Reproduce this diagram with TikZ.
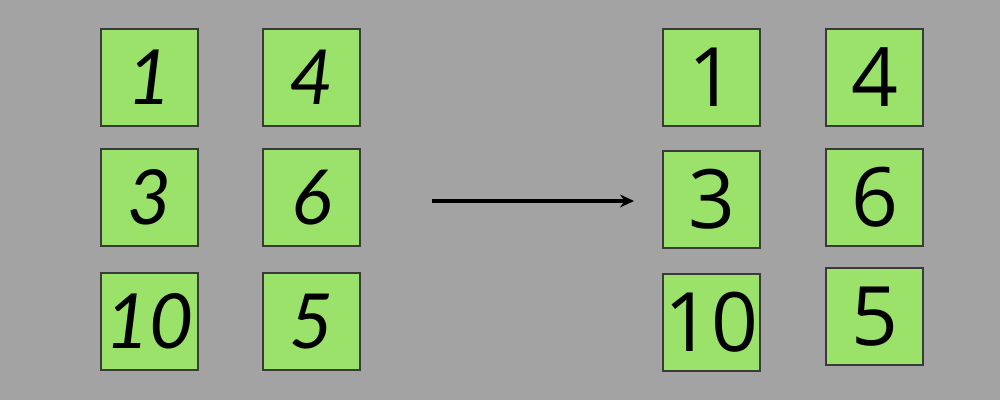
\documentclass[tikz,border=0pt]{standalone}
\usetikzlibrary{arrows.meta}
\usepackage{fontspec}
\setmainfont{Open Sans}
\newfontfamily\handfont{Lato}
\definecolor{bg}{HTML}{A3A3A3}
\definecolor{gr}{HTML}{9AE26A}
\definecolor{bd}{HTML}{3A3A3A}
\begin{document}
\begin{tikzpicture}[x=1pt,y=-1pt,
  box/.style={draw=bd,line width=1.2pt,fill=gr,minimum width=97pt,minimum height=97pt,inner sep=0pt},
  hand/.style={box,font=\handfont\itshape\fontsize{76}{76}\selectfont},
  typed/.style={box,font=\fontsize{82}{82}\selectfont}]
\fill[bg] (0,0) rectangle (1000,400);
\node[hand] (l1) at (149.5,77.5) {1};
\node[hand] (l4) at (311.5,77.5) {4};
\node[hand] (l3) at (149.5,197.5) {3};
\node[hand] (l6) at (311.5,197.5) {6};
\node[hand] (l10) at (149.5,321.5) {10};
\node[hand] (l5) at (311.5,321.5) {5};
\node[typed] (r1) at (711.5,77.5) {1};
\node[typed] (r4) at (874.5,77.5) {4};
\node[typed] (r3) at (711.5,199.5) {3};
\node[typed] (r6) at (874.5,197.5) {6};
\node[typed] (r10) at (711.5,322.5) {10};
\node[typed] (r5) at (874.5,316.5) {5};
\coordinate (a) at (432,201);
\coordinate (b) at (634,201);
\draw[line width=3.5pt,-{Stealth[length=14pt,width=13pt]}] (a) -- (b);
\end{tikzpicture}
\end{document}
